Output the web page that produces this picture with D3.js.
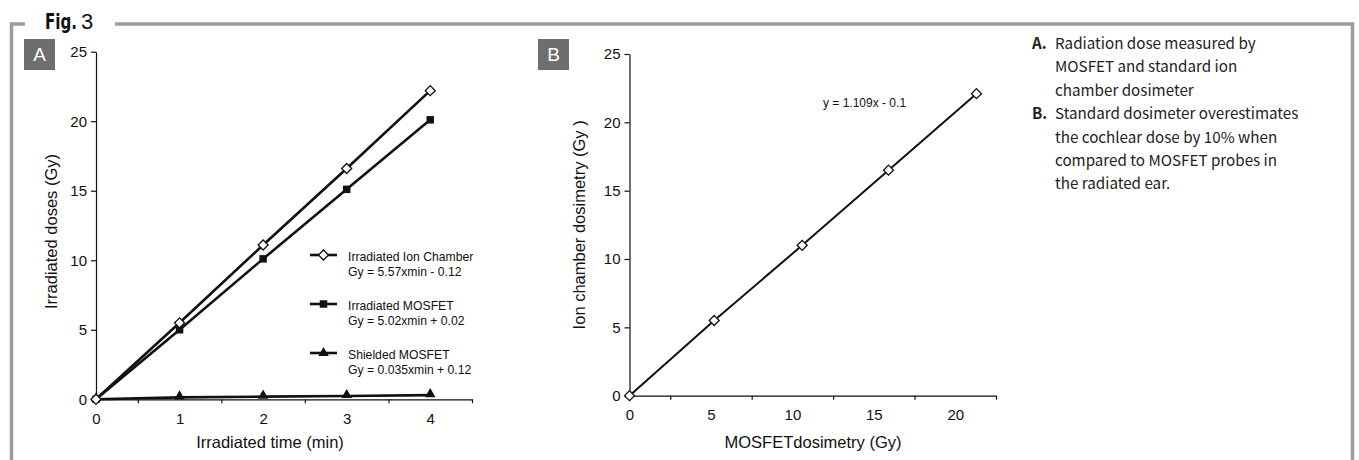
<!DOCTYPE html>
<html>
<head>
<meta charset="utf-8">
<script src="https://cdn.jsdelivr.net/npm/d3@7"></script>
<style>
  body { margin: 0; background: #fff; }
  svg { display: block; font-family: "Liberation Sans", Arial, sans-serif; }
</style>
</head>
<body>
<svg width="1359" height="460"></svg>
<script>
// panel A: dose vs irradiation time
const minutes = [0, 1, 2, 3, 4];
const ionChamber = [0, 5.5, 11.1, 16.6, 22.2];
const mosfet = [0, 5.0, 10.1, 15.1, 20.1];
const shielded = [0, 0.14, 0.19, 0.24, 0.3];
const legendNames = ["Irradiated Ion Chamber", "Irradiated MOSFET", "Shielded MOSFET"];
const legendFits = ["Gy = 5.57xmin - 0.12", "Gy = 5.02xmin + 0.02", "Gy = 0.035xmin + 0.12"];

// panel B: ion chamber vs MOSFET
const mosfetDose = [0, 5.2, 10.6, 15.9, 21.3];
const ionDose = [0, 5.5, 11.0, 16.5, 22.1];
const yTicks = [0, 5, 10, 15, 20, 25];
const bxTicks = [0, 5, 10, 15, 20];

const notes = [
  ["A.", "Radiation dose measured by"],
  ["", "MOSFET and standard ion"],
  ["", "chamber dosimeter"],
  ["B.", "Standard dosimeter overestimates"],
  ["", "the cochlear dose by 10% when"],
  ["", "compared to MOSFET probes in"],
  ["", "the radiated ear."]
];

const svg = d3.select("svg");
const frameColor = "#9c9c9c";

// frame
const frame = svg.append("g")
  .attr("fill", "none")
  .attr("stroke", frameColor)
  .attr("stroke-width", 3.5);
frame.append("path").attr("d", "M11.5,462 V24 H25");
frame.append("path").attr("d", "M115,24 H1352.5 V462");

// condensed heavy "Fig." like the journal style
svg.append("text")
  .attr("transform", "translate(45,29) scale(0.72,1)")
  .style("font-family", "'DejaVu Sans', sans-serif")
  .style("font-size", "21px")
  .attr("font-weight", "bold")
  .style("fill", "#111")
  .text("Fig.");
svg.append("text")
  .attr("x", 81).attr("y", 29)
  .style("font-size", "22px")
  .style("fill", "#111")
  .text("3");

function panelLabel(x, label) {
  svg.append("rect")
    .attr("x", x).attr("y", 39)
    .attr("width", 31).attr("height", 31)
    .attr("fill", "#6e6e6e");
  svg.append("text")
    .attr("x", x + 15.5).attr("y", 61)
    .attr("text-anchor", "middle")
    .style("font-size", "19px")
    .style("fill", "#fff")
    .text(label);
}

function symbol(g, type, x, y) {
  if (type === "diamond") {
    g.append("path")
      .attr("d", d3.symbol(d3.symbolSquare, 50)())
      .attr("transform", `translate(${x},${y}) rotate(45)`)
      .attr("fill", "#fff").attr("stroke", "#111").attr("stroke-width", 1.3);
  } else if (type === "square") {
    g.append("path")
      .attr("d", d3.symbol(d3.symbolSquare, 56)())
      .attr("transform", `translate(${x},${y})`)
      .attr("fill", "#111");
  } else {
    g.append("path")
      .attr("d", d3.symbol(d3.symbolTriangle, 48)())
      .attr("transform", `translate(${x},${y - 1})`)
      .attr("fill", "#111");
  }
}

function styleAxis(g) {
  g.select(".domain").attr("stroke", "#111").attr("stroke-width", 1.2);
  g.selectAll(".tick line").attr("stroke", "#111").attr("stroke-width", 1.2);
  g.selectAll(".tick text")
    .style("font-size", "15px")
    .style("font-family", "'Liberation Sans', Arial, sans-serif")
    .attr("fill", "#111");
}

// ---------- panel A ----------
panelLabel(24, "A");
const xA = d3.scaleLinear().domain([0, 4.5]).range([96, 472]);
const yA = d3.scaleLinear().domain([0, 25]).range([399.3, 51.7]);

svg.append("g")
  .attr("transform", `translate(${xA(0)},0)`)
  .call(d3.axisLeft(yA).tickValues(yTicks).tickSize(5).tickSizeOuter(0).tickPadding(4))
  .call(styleAxis);

svg.append("g")
  .attr("transform", `translate(0,${yA(0)})`)
  .call(d3.axisBottom(xA).tickValues([0.5, 1.5, 2.5, 3.5, 4.5]).tickSize(4).tickSizeOuter(0).tickFormat(""))
  .call(styleAxis);

svg.append("g")
  .attr("transform", `translate(0,${yA(0)})`)
  .call(d3.axisBottom(xA).tickValues(minutes).tickSize(0).tickPadding(14).tickFormat(d3.format("d")))
  .call(g => g.select(".domain").remove())
  .call(styleAxis);

const seriesA = [
  { values: shielded, type: "triangle" },
  { values: mosfet, type: "square" },
  { values: ionChamber, type: "diamond" }
];
const lineA = d3.line().x((d, i) => xA(minutes[i])).y(d => yA(d));
const plotA = svg.append("g");
seriesA.forEach(s => {
  plotA.append("path")
    .attr("d", lineA(s.values))
    .attr("fill", "none")
    .attr("stroke", "#111")
    .attr("stroke-width", 2.6);
});
seriesA.forEach(s => {
  s.values.forEach((v, i) => symbol(plotA, s.type, xA(minutes[i]), yA(v)));
});

svg.append("text")
  .attr("transform", `translate(57,${(yA(0) + yA(25)) / 2 + 6}) rotate(-90)`)
  .attr("text-anchor", "middle")
  .style("font-size", "16.5px")
  .attr("fill", "#111")
  .text("Irradiated doses (Gy)");

svg.append("text")
  .attr("x", 270).attr("y", 448)
  .attr("text-anchor", "middle")
  .style("font-size", "16.5px")
  .attr("fill", "#111")
  .text("Irradiated time (min)");

// legend
const legendTypes = ["diamond", "square", "triangle"];
const legend = svg.append("g");
legendNames.forEach((name, i) => {
  const cy = 255 + i * 49;
  legend.append("line")
    .attr("x1", 310).attr("x2", 337)
    .attr("y1", cy).attr("y2", cy)
    .attr("stroke", "#111").attr("stroke-width", 2.6);
  symbol(legend, legendTypes[i], 323.5, cy + (legendTypes[i] === "triangle" ? 1 : 0));
  legend.append("text")
    .attr("x", 348).attr("y", cy + 6)
    .style("font-size", "12.2px").attr("fill", "#111")
    .text(name);
  legend.append("text")
    .attr("x", 348).attr("y", cy + 21)
    .style("font-size", "12.2px").attr("fill", "#111")
    .text(legendFits[i]);
});

// ---------- panel B ----------
panelLabel(538, "B");
const xB = d3.scaleLinear().domain([0, 22.5]).range([629.5, 996]);
const yB = d3.scaleLinear().domain([0, 25]).range([395.7, 54]);

svg.append("g")
  .attr("transform", `translate(${xB(0)},0)`)
  .call(d3.axisLeft(yB).tickValues(yTicks).tickSize(5).tickSizeOuter(0).tickPadding(4))
  .call(styleAxis);

svg.append("g")
  .attr("transform", `translate(0,${yB(0)})`)
  .call(d3.axisBottom(xB).tickValues([2.5, 7.5, 12.5, 17.5, 22.5]).tickSize(4).tickSizeOuter(0).tickFormat(""))
  .call(styleAxis);

svg.append("g")
  .attr("transform", `translate(0,${yB(0)})`)
  .call(d3.axisBottom(xB).tickValues(bxTicks).tickSize(0).tickPadding(14).tickFormat(d3.format("d")))
  .call(g => g.select(".domain").remove())
  .call(styleAxis);

const plotB = svg.append("g");
plotB.append("path")
  .attr("d", d3.line().x((d, i) => xB(mosfetDose[i])).y(d => yB(d))(ionDose))
  .attr("fill", "none")
  .attr("stroke", "#111")
  .attr("stroke-width", 2);
ionDose.forEach((v, i) => symbol(plotB, "diamond", xB(mosfetDose[i]), yB(v)));

plotB.append("text")
  .attr("x", 823).attr("y", 107)
  .style("font-size", "12px").attr("fill", "#111")
  .text("y = 1.109x - 0.1");

svg.append("text")
  .attr("transform", `translate(585,${(yB(0) + yB(25)) / 2}) rotate(-90)`)
  .attr("text-anchor", "middle")
  .style("font-size", "16.5px")
  .attr("fill", "#111")
  .text("Ion chamber dosimetry (Gy )");

svg.append("text")
  .attr("x", 813).attr("y", 448)
  .attr("text-anchor", "middle")
  .style("font-size", "16.5px")
  .attr("fill", "#111")
  .text("MOSFETdosimetry (Gy)");

// ---------- notes ----------
const noteG = svg.append("g")
  .style("font-family", "'Noto Sans CJK KR', 'Noto Sans', sans-serif")
  .style("font-size", "15.2px")
  .attr("fill", "#222");
notes.forEach((n, i) => {
  const y = 49 + i * 23.4;
  if (n[0]) {
    noteG.append("text").attr("x", 1032).attr("y", y)
      .attr("font-weight", "bold").text(n[0]);
  }
  noteG.append("text").attr("x", 1055).attr("y", y).text(n[1]);
});
</script>
</body>
</html>
